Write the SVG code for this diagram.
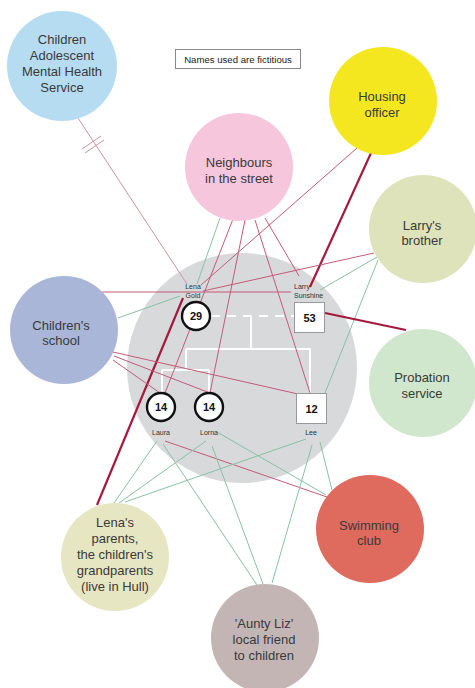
<svg xmlns="http://www.w3.org/2000/svg" width="475" height="688" viewBox="0 0 475 688">
<style>
.lbl{font-family:"Liberation Sans",Arial,sans-serif;font-size:13px;fill:#3a3a3a;text-anchor:middle}
.small{font-family:"Liberation Sans",Arial,sans-serif;font-size:7px;fill:#333;text-anchor:middle}
.num{font-family:"Liberation Sans",Arial,sans-serif;font-size:11px;font-weight:bold;fill:#111;text-anchor:middle}
.red{stroke:#c55a76;stroke-width:1;fill:none}
.thick{stroke:#a41a3e;stroke-width:2.2;fill:none}
.green{stroke:#88c2a4;stroke-width:1;fill:none}
.cut{stroke:#c9939f;stroke-width:1;fill:none}
.fam{stroke:#fff;stroke-width:2;fill:none}
.person{fill:#fff;stroke:#111;stroke-width:2.4}
.man{fill:#fff;stroke:#999;stroke-width:1}
</style>
<rect width="475" height="688" fill="#fff"/>
<g id="household">
<circle cx="242" cy="368" r="115" fill="#d7d9db"/>
<path class="fam" d="M211 316H294" stroke-dasharray="9 7"/>
<path class="fam" d="M251 316V349M186 349H310V393M186 349V370M162 370H209M162 370V393M209 370V393"/>
</g>
<g id="connectors">
<line class="cut" x1="78" y1="118" x2="187" y2="284"/>
<line class="cut" x1="82" y1="149" x2="101" y2="136"/>
<line class="cut" x1="85" y1="153" x2="104" y2="140"/>
<line class="green" x1="220" y1="218" x2="197" y2="284"/>
<line class="red" x1="233" y1="219" x2="165" y2="393"/>
<line class="red" x1="245" y1="220" x2="210" y2="393"/>
<line class="red" x1="255" y1="220" x2="310" y2="393"/>
<line class="red" x1="265" y1="218" x2="299" y2="276"/>
<line class="red" x1="357" y1="148" x2="201" y2="285"/>
<line class="thick" x1="371" y1="153" x2="310" y2="287"/>
<line class="red" x1="102" y1="292" x2="291" y2="292"/>
<line class="green" x1="118" y1="318" x2="180" y2="296"/>
<line class="red" x1="203" y1="291" x2="374" y2="253"/>
<line class="green" x1="377" y1="257" x2="320" y2="290"/>
<line class="green" x1="378" y1="260" x2="325" y2="393"/>
<line class="thick" x1="325" y1="313" x2="406" y2="330"/>
<line class="thick" x1="97" y1="505" x2="183" y2="298"/>
<line class="red" x1="113" y1="352" x2="298" y2="394"/>
<line class="red" x1="114" y1="356" x2="210" y2="393"/>
<line class="red" x1="113" y1="360" x2="160" y2="393"/>
<line class="red" x1="165" y1="441" x2="327" y2="497"/>
<line class="green" x1="217" y1="432" x2="326" y2="495"/>
<line class="green" x1="320" y1="442" x2="332" y2="490"/>
<line class="green" x1="157" y1="441" x2="114" y2="503"/>
<line class="green" x1="206" y1="441" x2="119" y2="503"/>
<line class="green" x1="306" y1="439" x2="125" y2="502"/>
<line class="green" x1="163" y1="444" x2="257" y2="585"/>
<line class="green" x1="212" y1="446" x2="263" y2="584"/>
<line class="green" x1="312" y1="445" x2="272" y2="583"/>
</g>
<g id="note">
<rect x="175.5" y="49.5" width="125" height="19" fill="#fff" stroke="#888" stroke-width="1"/>
<text x="238" y="62.5" font-family="Liberation Sans,Arial,sans-serif" font-size="9.6" fill="#222" text-anchor="middle">Names used are fictitious</text>
</g>
<g id="camhs">
<circle cx="62" cy="66" r="55" fill="#b5dcf1"/>
<text class="lbl" x="62" y="44">Children</text>
<text class="lbl" x="62" y="60">Adolescent</text>
<text class="lbl" x="62" y="76">Mental Health</text>
<text class="lbl" x="62" y="92">Service</text>
</g>
<g id="housing">
<circle cx="383" cy="101" r="54" fill="#f5e71f"/>
<text class="lbl" x="382" y="101">Housing</text>
<text class="lbl" x="382" y="117">officer</text>
</g>
<g id="neighbours">
<circle cx="239" cy="167" r="54" fill="#f6c6dd"/>
<text class="lbl" x="239" y="167">Neighbours</text>
<text class="lbl" x="239" y="183">in the street</text>
</g>
<g id="larrys-brother">
<circle cx="423" cy="229" r="54" fill="#dfe3bb"/>
<text class="lbl" x="422" y="230">Larry's</text>
<text class="lbl" x="422" y="245">brother</text>
</g>
<g id="school">
<circle cx="64" cy="330" r="54" fill="#a9b6d8"/>
<text class="lbl" x="61" y="330">Children's</text>
<text class="lbl" x="61" y="345">school</text>
</g>
<g id="probation">
<circle cx="423" cy="383" r="54" fill="#d0e7ce"/>
<text class="lbl" x="422" y="382">Probation</text>
<text class="lbl" x="422" y="398">service</text>
</g>
<g id="lenas-parents">
<circle cx="115" cy="557" r="54" fill="#e7e6c2"/>
<text class="lbl" x="115" y="527">Lena's</text>
<text class="lbl" x="115" y="543">parents,</text>
<text class="lbl" x="115" y="559">the children's</text>
<text class="lbl" x="115" y="575">grandparents</text>
<text class="lbl" x="115" y="591">(live in Hull)</text>
</g>
<g id="swimming">
<circle cx="370" cy="529" r="54" fill="#df6a5e"/>
<text class="lbl" x="369" y="530">Swimming</text>
<text class="lbl" x="369" y="545">club</text>
</g>
<g id="aunty-liz">
<circle cx="265" cy="638" r="54" fill="#c4b5b5"/>
<text class="lbl" x="264" y="628">'Aunty Liz'</text>
<text class="lbl" x="264" y="644">local friend</text>
<text class="lbl" x="264" y="660">to children</text>
</g>
<g id="lena">
<text class="small" x="193" y="289">Lena</text>
<text class="small" x="193" y="298">Gold</text>
<circle class="person" cx="196" cy="316" r="14"/>
<text class="num" x="196" y="320">29</text>
</g>
<g id="larry">
<text class="small" x="294" y="289" text-anchor="start" style="text-anchor:start">Larry</text>
<text class="small" x="294" y="298" style="text-anchor:start">Sunshine</text>
<rect class="man" x="294.5" y="302.5" width="30" height="30"/>
<text class="num" x="309.5" y="321.5">53</text>
</g>
<g id="laura">
<circle class="person" cx="161" cy="407" r="14"/>
<text class="num" x="161" y="411">14</text>
<text class="small" x="161" y="435">Laura</text>
</g>
<g id="lorna">
<circle class="person" cx="209" cy="407" r="14"/>
<text class="num" x="209" y="411">14</text>
<text class="small" x="209" y="435">Lorna</text>
</g>
<g id="lee">
<rect class="man" x="296.5" y="393.5" width="30" height="30"/>
<text class="num" x="311.5" y="412.5">12</text>
<text class="small" x="311" y="435">Lee</text>
</g>
</svg>
